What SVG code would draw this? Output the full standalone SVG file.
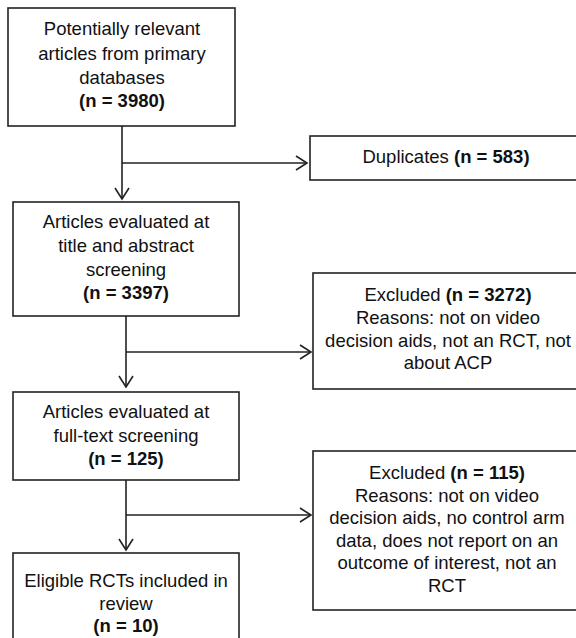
<svg xmlns="http://www.w3.org/2000/svg" width="576" height="638" viewBox="0 0 576 638">
<style>
.box{fill:#fff;stroke:#222;stroke-width:1.6}
.t{font-family:"Liberation Sans",Arial,sans-serif;font-size:18.5px;fill:#111;text-anchor:middle}
.b{font-weight:bold}
.ln{fill:none;stroke:#222;stroke-width:1.6}
</style>
<defs>
<marker id="ah" markerUnits="userSpaceOnUse" markerWidth="16" markerHeight="18" viewBox="-13 -9 16 18" refX="0" refY="0" orient="auto">
<path d="M-11,-7 L0,0 L-11,7" fill="none" stroke="#222" stroke-width="1.6"/>
</marker>
</defs>
<rect width="576" height="638" fill="#fff"/>
<g id="connectors">
<path class="ln" d="M122,126 V199" marker-end="url(#ah)"/>
<path class="ln" d="M122,163 H307" marker-end="url(#ah)"/>
<path class="ln" d="M126,316 V387" marker-end="url(#ah)"/>
<path class="ln" d="M126,352 H311" marker-end="url(#ah)"/>
<path class="ln" d="M126,480 V550" marker-end="url(#ah)"/>
<path class="ln" d="M126,515 H311" marker-end="url(#ah)"/>
</g>
<g id="n1">
<rect class="box" x="8" y="8" width="227" height="118"/>
<text class="t" x="122" y="35">Potentially relevant</text>
<text class="t" x="122" y="60">articles from primary</text>
<text class="t" x="122" y="84">databases</text>
<text class="t b" x="122" y="107">(n = 3980)</text>
</g>
<g id="n2">
<rect class="box" x="310" y="136" width="272" height="44"/>
<text class="t" x="446" y="163">Duplicates <tspan class="b">(n = 583)</tspan></text>
</g>
<g id="n3">
<rect class="box" x="13" y="202" width="226" height="114"/>
<text class="t" x="126" y="228">Articles evaluated at</text>
<text class="t" x="126" y="252">title and abstract</text>
<text class="t" x="126" y="276">screening</text>
<text class="t b" x="126" y="299">(n = 3397)</text>
</g>
<g id="n4">
<rect class="box" x="313" y="273" width="270" height="116"/>
<text class="t" x="448" y="301">Excluded <tspan class="b">(n = 3272)</tspan></text>
<text class="t" x="448" y="324">Reasons: not on video</text>
<text class="t" x="448" y="346.5">decision aids, not an RCT, not</text>
<text class="t" x="448" y="369">about ACP</text>
</g>
<g id="n5">
<rect class="box" x="13" y="392" width="226" height="88"/>
<text class="t" x="126" y="418">Articles evaluated at</text>
<text class="t" x="126" y="442">full-text screening</text>
<text class="t b" x="126" y="465">(n = 125)</text>
</g>
<g id="n6">
<rect class="box" x="313" y="451" width="270" height="159"/>
<text class="t" x="447" y="479">Excluded <tspan class="b">(n = 115)</tspan></text>
<text class="t" x="447" y="501.5">Reasons: not on video</text>
<text class="t" x="447" y="524">decision aids, no control arm</text>
<text class="t" x="447" y="546.5">data, does not report on an</text>
<text class="t" x="447" y="569">outcome of interest, not an</text>
<text class="t" x="447" y="591.5">RCT</text>
</g>
<g id="n7">
<rect class="box" x="13" y="553" width="226" height="100"/>
<text class="t" x="126" y="587">Eligible RCTs included in</text>
<text class="t" x="126" y="610">review</text>
<text class="t b" x="126" y="632">(n = 10)</text>
</g>
</svg>
